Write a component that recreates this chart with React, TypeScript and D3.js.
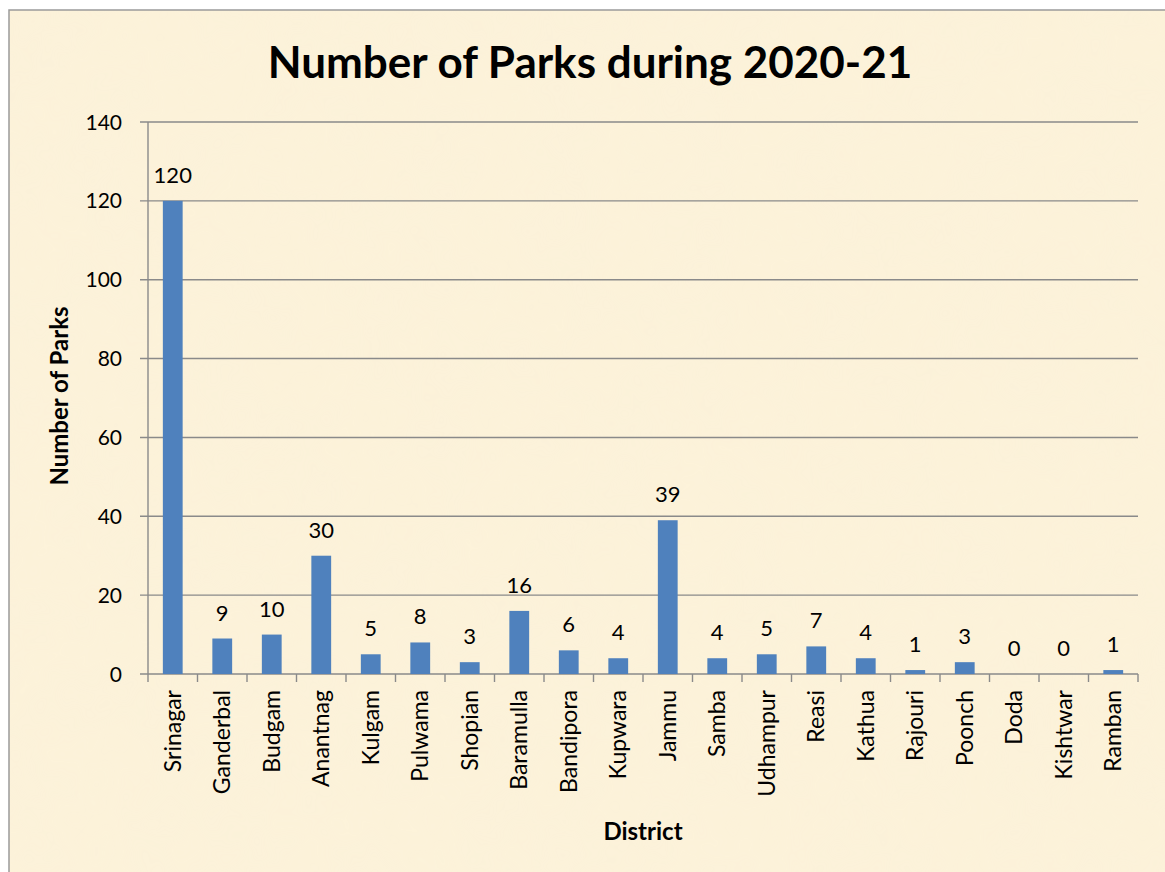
import React from "react";
import * as d3 from "d3";

const districts = ["Srinagar","Ganderbal","Budgam","Anantnag","Kulgam","Pulwama","Shopian","Baramulla","Bandipora","Kupwara","Jammu","Samba","Udhampur","Reasi","Kathua","Rajouri","Poonch","Doda","Kishtwar","Ramban"];
const parks = [120,9,10,30,5,8,3,16,6,4,39,4,5,7,4,1,3,0,0,1];
const yTicks = [0,20,40,60,80,100,120,140];

const W = 1165, H = 872;
const M = { left: 148, right: 1138, top: 122, bottom: 674 };
const FONT = "Lato, 'Open Sans', sans-serif";

export default function App() {
  const x = d3.scaleBand<string>().domain(districts).range([M.left, M.right]).paddingInner(0.6).paddingOuter(0.3);
  const band = d3.scaleBand<string>().domain(districts).range([M.left, M.right]);
  const y = d3.scaleLinear().domain([0, 140]).range([M.bottom, M.top]);
  const grid = "#8a8a8a";
  return (
    <svg width={W} height={H} style={{ position: "absolute", left: 0, top: 0 }}>
      <defs>
        <filter id="tex" x="0" y="0" width="100%" height="100%">
          <feTurbulence type="fractalNoise" baseFrequency="0.015" numOctaves="3" seed="4" result="n" />
          <feColorMatrix in="n" type="matrix" values="0 0 0 0 0.96  0 0 0 0 0.88  0 0 0 0 0.66  0 0 0 0.35 0" />
        </filter>
      </defs>
      <rect x={9} y={10} width={W} height={H} fill="#fcf2da" stroke="#9a9a9a" strokeWidth={1.5} />
      <rect x={10} y={11} width={W - 10} height={H - 11} filter="url(#tex)" opacity={0.5} />
      <text x={590} y={78} textAnchor="middle" fontFamily={FONT} fontWeight="bold" fontSize={44} fill="#000">Number of Parks during 2020-21</text>
      {yTicks.map(t => (
        <g key={t}>
          <line x1={M.left - 8} x2={M.right} y1={y(t)} y2={y(t)} stroke={grid} strokeWidth={1.4} />
          <text x={M.left - 26} y={y(t)} dy="0.36em" textAnchor="end" fontFamily={FONT} fontSize={21} fill="#000">{t}</text>
        </g>
      ))}
      <line x1={M.left} x2={M.left} y1={M.top} y2={M.bottom + 8} stroke={grid} strokeWidth={1.4} />
      {districts.map((d) => (
        <line key={"t" + d} x1={(band(d) as number) + band.bandwidth()} x2={(band(d) as number) + band.bandwidth()} y1={M.bottom} y2={M.bottom + 8} stroke={grid} strokeWidth={1.4} />
      ))}
      {districts.map((d, i) => {
        const bx = x(d) as number;
        const cx = (band(d) as number) + band.bandwidth() / 2;
        return (
          <g key={d}>
            <rect x={bx} y={y(parks[i])} width={x.bandwidth()} height={M.bottom - y(parks[i])} fill="#4f81bd" />
            <text x={cx} y={y(parks[i]) - 18} textAnchor="middle" fontFamily={FONT} fontSize={22} fill="#000">{parks[i]}</text>
            <text transform={`translate(${cx + 8},${M.bottom + 16}) rotate(-90)`} textAnchor="end" fontFamily={FONT} fontSize={23} fill="#000">{d}</text>
          </g>
        );
      })}
      <text transform={`translate(68,${(M.top + M.bottom) / 2 - 2}) rotate(-90)`} textAnchor="middle" fontFamily={FONT} fontWeight="bold" fontSize={24} fill="#000">Number of Parks</text>
      <text x={643} y={840} textAnchor="middle" fontFamily={FONT} fontWeight="bold" fontSize={24} fill="#000">District</text>
    </svg>
  );
}
